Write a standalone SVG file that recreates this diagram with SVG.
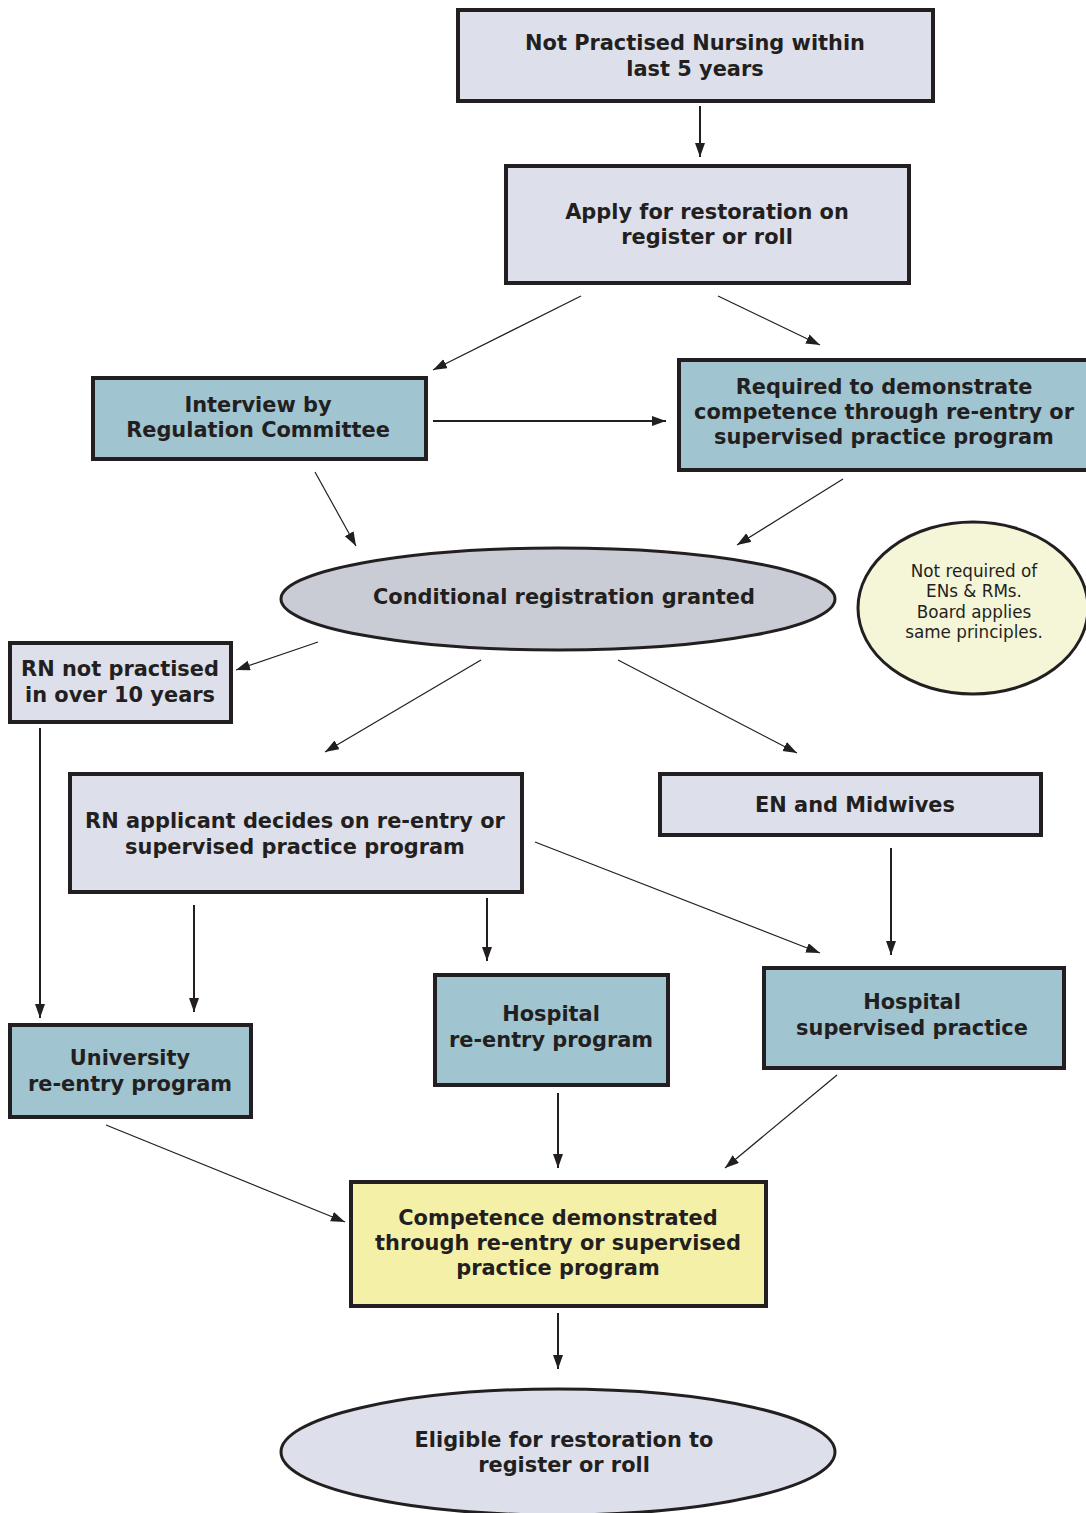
<svg xmlns="http://www.w3.org/2000/svg" width="1086" height="1513" viewBox="0 0 1086 1513">
<defs>
<marker id="ah" markerUnits="userSpaceOnUse" markerWidth="16" markerHeight="12" refX="14" refY="5" orient="auto"><path d="M0,0 L14,5 L0,10 z" fill="#231f20"/></marker>
<style>
.box{stroke:#231f20;stroke-width:4}
.lav{fill:#dde0ea}
.blue{fill:#a0c4d0}
.yel{fill:#f5f0a8}
.t{font-family:"DejaVu Sans",Verdana,sans-serif;font-weight:bold;font-size:20.9px;fill:#231f20;text-anchor:middle}
.n{font-family:"DejaVu Sans",Verdana,sans-serif;font-size:16.8px;fill:#231f20;text-anchor:middle}
.c line{stroke:#231f20;stroke-width:1.2;marker-end:url(#ah)}
.c line.v{stroke-width:2}
</style>
</defs>
<rect width="1086" height="1513" fill="#ffffff"/>
<g class="c" id="connectors">
<line class="v" x1="700" y1="106" x2="700" y2="157"/>
<line x1="581" y1="296" x2="433" y2="370"/>
<line x1="718" y1="296" x2="820" y2="345"/>
<line class="v" x1="433" y1="421" x2="666" y2="421"/>
<line x1="315" y1="472" x2="356" y2="546"/>
<line x1="843" y1="479" x2="737" y2="545"/>
<line x1="318" y1="642" x2="236" y2="670"/>
<line x1="481" y1="660" x2="325" y2="752"/>
<line x1="618" y1="660" x2="797" y2="753"/>
<line class="v" x1="40" y1="728" x2="40" y2="1018"/>
<line class="v" x1="194" y1="905" x2="194" y2="1012"/>
<line class="v" x1="487" y1="898" x2="487" y2="961"/>
<line x1="535" y1="842" x2="820" y2="953"/>
<line class="v" x1="891" y1="848" x2="891" y2="955"/>
<line x1="106" y1="1125" x2="345" y2="1222"/>
<line class="v" x1="558" y1="1093" x2="558" y2="1168"/>
<line x1="837" y1="1075" x2="725" y2="1168"/>
<line class="v" x1="558" y1="1313" x2="558" y2="1369"/>
</g>
<g id="n1"><rect class="box lav" x="458" y="10" width="475" height="91"/><text class="t" x="695" y="50">Not Practised Nursing within</text><text class="t" x="695" y="76">last 5 years</text></g>
<g id="n2"><rect class="box lav" x="506" y="166" width="403" height="117"/><text class="t" x="707" y="219">Apply for restoration on</text><text class="t" x="707" y="244">register or roll</text></g>
<g id="n3"><rect class="box blue" x="93" y="378" width="333" height="81"/><text class="t" x="258" y="412">Interview by</text><text class="t" x="258" y="437">Regulation Committee</text></g>
<g id="n4"><rect class="box blue" x="679" y="360" width="412" height="110"/><text class="t" x="884" y="394">Required to demonstrate</text><text class="t" x="884" y="419">competence through re-entry or</text><text class="t" x="884" y="444">supervised practice program</text></g>
<g id="n5"><ellipse cx="558" cy="599" rx="277" ry="51" fill="#c9ccd4" stroke="#231f20" stroke-width="3"/><text class="t" x="564" y="604">Conditional registration granted</text></g>
<g id="n6"><ellipse cx="973" cy="608" rx="115" ry="86" fill="#f5f5d8" stroke="#231f20" stroke-width="3"/><text class="n" x="974" y="577">Not required of</text><text class="n" x="974" y="597">ENs &amp; RMs.</text><text class="n" x="974" y="618">Board applies</text><text class="n" x="974" y="638">same principles.</text></g>
<g id="n7"><rect class="box lav" x="10" y="643" width="221" height="79"/><text class="t" x="120" y="676">RN not practised</text><text class="t" x="120" y="702">in over 10 years</text></g>
<g id="n8"><rect class="box lav" x="70" y="774" width="452" height="118"/><text class="t" x="295" y="828">RN applicant decides on re-entry or</text><text class="t" x="295" y="854">supervised practice program</text></g>
<g id="n9"><rect class="box lav" x="660" y="774" width="381" height="61"/><text class="t" x="855" y="812">EN and Midwives</text></g>
<g id="n10"><rect class="box blue" x="10" y="1025" width="241" height="92"/><text class="t" x="130" y="1065">University</text><text class="t" x="130" y="1091">re-entry program</text></g>
<g id="n11"><rect class="box blue" x="435" y="975" width="233" height="110"/><text class="t" x="551" y="1021">Hospital</text><text class="t" x="551" y="1047">re-entry program</text></g>
<g id="n12"><rect class="box blue" x="764" y="968" width="300" height="100"/><text class="t" x="912" y="1009">Hospital</text><text class="t" x="912" y="1035">supervised practice</text></g>
<g id="n13"><rect class="box yel" x="351" y="1182" width="415" height="124"/><text class="t" x="558" y="1225">Competence demonstrated</text><text class="t" x="558" y="1250">through re-entry or supervised</text><text class="t" x="558" y="1275">practice program</text></g>
<g id="n14"><ellipse cx="558" cy="1452" rx="277" ry="63" fill="#dde0ea" stroke="#231f20" stroke-width="3"/><text class="t" x="564" y="1447">Eligible for restoration to</text><text class="t" x="564" y="1472">register or roll</text></g>
</svg>
